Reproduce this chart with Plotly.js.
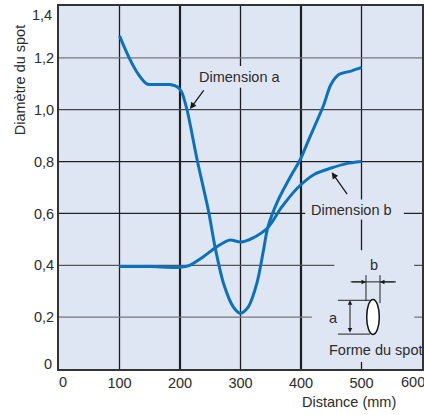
<!DOCTYPE html>
<html>
<head>
<meta charset="utf-8">
<script src="https://cdn.plot.ly/plotly-3.0.1.min.js"></script>
<style>html,body{margin:0;padding:0;background:#fff;}#chart{width:424px;height:415px;}</style>
</head>
<body>
<div id="chart"></div>
<script>
// ---- data ----
const distA = [100, 117, 131, 145, 165, 183, 197, 203, 212, 228, 247, 258, 272, 288, 300, 313, 327, 338, 345, 362, 385, 398, 412, 437, 449, 462, 484, 500];
const dimA  = [1.285, 1.195, 1.137, 1.100, 1.097, 1.097, 1.086, 1.067, 0.996, 0.810, 0.611, 0.470, 0.330, 0.240, 0.215, 0.240, 0.330, 0.458, 0.545, 0.650, 0.752, 0.804, 0.880, 1.015, 1.095, 1.135, 1.150, 1.163];
const distB = [100, 150, 200, 216, 238, 260, 282, 300, 320, 345, 368, 395, 423, 450, 475, 500];
const dimB  = [0.395, 0.395, 0.392, 0.400, 0.432, 0.470, 0.497, 0.490, 0.505, 0.545, 0.624, 0.700, 0.752, 0.775, 0.792, 0.800];
const xTicks = [0, 100, 200, 300, 400, 500, 600];
const xTickLabels = ['0', '100', '200', '300', '400', '500', '600'];
const yTicks = [0, 0.2, 0.4, 0.6, 0.8, 1.0, 1.2, 1.4];
const yTickLabels = ['0', '0,2', '0,4', '0,6', '0,8', '1,0', '1,2', '1,4'];
const seriesNames = ['Dimension a', 'Dimension b'];

// ---- styling ----
const FONT = 'Liberation Sans, Arial, Helvetica, sans-serif';
const TXT = '#2b2b2b';
const BG = '#dfe6f3';
const BLUE = '#0a71bd';
const FS = 14.5;

const shapes = [];
const xLast = xTicks.length - 1, yLast = yTicks.length - 1;
// vertical grid lines
xTicks.forEach(t => {
  if (t <= xTicks[0] || t >= xTicks[xLast]) return;
  const thick = (t === 200 || t === 400);
  shapes.push({type: 'line', layer: 'below', xref: 'x', yref: 'y', x0: t, x1: t, y0: yTicks[0], y1: yTicks[yLast],
    line: {color: '#1e1e1e', width: thick ? 2.2 : 1.3}});
});
// horizontal grid lines
const hColor = {0.2: '#777', 0.4: '#555', 0.6: '#222', 0.8: '#222', 1.0: '#444', 1.2: '#777'};
yTicks.forEach(t => {
  if (t <= yTicks[0] || t >= yTicks[yLast]) return;
  shapes.push({type: 'line', layer: 'below', xref: 'x', yref: 'y', x0: xTicks[0], x1: xTicks[xLast], y0: t, y1: t,
    line: {color: hColor[t] || '#333', width: 1.3}});
});
// background patches that interrupt the grid behind labels / inset
const patch = (x0, x1, y0, y1) => shapes.push({type: 'rect', layer: 'below', xref: 'x', yref: 'y', x0, x1, y0, y1,
  line: {width: 0}, fillcolor: BG});
patch(225, 373, 1.085, 1.169);      // behind "Dimension a"
patch(407, 570, 0.577, 0.654);      // behind "Dimension b"
patch(455, 587, 0.027, 0.458);      // inset
patch(418, 587, 0.17, 0.23);        // inset ("a" label)

// inset drawing: spot shape and dimension lines
const ln = (x0, y0, x1, y1, w) => shapes.push({type: 'line', layer: 'above', xref: 'x', yref: 'y', x0, y0, x1, y1,
  line: {color: '#222', width: w || 1}});
ln(507.4, 0.362, 507.4, 0.262);
ln(530.6, 0.362, 530.6, 0.254);
ln(482, 0.336, 557, 0.336);
ln(461, 0.265, 514, 0.265);
ln(461, 0.1346, 514, 0.1346);
shapes.push({type: 'circle', layer: 'above', xref: 'x', yref: 'y', x0: 508.6, x1: 529.4, y0: 0.1335, y1: 0.268,
  fillcolor: '#ffffff', line: {color: '#111', width: 1.5}});

const txtFont = {family: FONT, size: FS, color: TXT};
const annotations = [
  {xref: 'x', yref: 'y', x: 299, y: 1.127, text: seriesNames[0], showarrow: false, font: txtFont},
  {xref: 'x', yref: 'y', x: 216.5, y: 1.003, ax: 241, ay: 1.08, axref: 'x', ayref: 'y', text: '', showarrow: true,
    arrowhead: 2, arrowsize: 1, arrowwidth: 1.3, arrowcolor: '#1a1a1a'},
  {xref: 'x', yref: 'y', x: 483.5, y: 0.615, text: seriesNames[1], showarrow: false, font: txtFont},
  {xref: 'x', yref: 'y', x: 450.7, y: 0.759, ax: 478, ay: 0.669, axref: 'x', ayref: 'y', text: '', showarrow: true,
    arrowhead: 2, arrowsize: 1, arrowwidth: 1.3, arrowcolor: '#1a1a1a'},
  // inset labels & arrows
  {xref: 'x', yref: 'y', x: 520.7, y: 0.40, text: 'b', showarrow: false, font: txtFont},
  {xref: 'x', yref: 'y', x: 454.5, y: 0.196, text: 'a', showarrow: false, font: txtFont},
  {xref: 'x', yref: 'y', x: 443, y: 0.073, text: 'Forme du spot', xanchor: 'left', showarrow: false, font: txtFont},
  {xref: 'x', yref: 'y', x: 507.4, y: 0.336, ax: 482, ay: 0.336, axref: 'x', ayref: 'y', text: '', showarrow: true,
    arrowhead: 2, arrowsize: 0.9, arrowwidth: 1, arrowcolor: '#1a1a1a'},
  {xref: 'x', yref: 'y', x: 530.6, y: 0.336, ax: 557, ay: 0.336, axref: 'x', ayref: 'y', text: '', showarrow: true,
    arrowhead: 2, arrowsize: 0.9, arrowwidth: 1, arrowcolor: '#1a1a1a'},
  {xref: 'x', yref: 'y', x: 481, y: 0.265, ax: 481, ay: 0.1346, axref: 'x', ayref: 'y', text: '', showarrow: true,
    arrowhead: 2, startarrowhead: 2, arrowside: 'end+start', arrowsize: 0.9, startarrowsize: 0.9, arrowwidth: 1, arrowcolor: '#1a1a1a'},
  // axis titles
  {xref: 'paper', yref: 'paper', x: -0.107, y: 0.796, xanchor: 'center', yanchor: 'middle', text: 'Diamètre du spot',
    textangle: -90, showarrow: false, font: txtFont},
  {xref: 'paper', yref: 'paper', x: 0.799, y: -0.09, xanchor: 'center', yanchor: 'middle', text: 'Distance (mm)',
    showarrow: false, font: txtFont},
  // end tick labels, nudged inward as in the reference
  {xref: 'x', yref: 'paper', x: xTicks[0], y: 0, xanchor: 'center', yanchor: 'middle', yshift: -13, xshift: 4,
    text: xTickLabels[0], showarrow: false, font: txtFont},
  {xref: 'x', yref: 'paper', x: xTicks[xLast], y: 0, xanchor: 'center', yanchor: 'middle', yshift: -13, xshift: -9,
    text: xTickLabels[xLast], showarrow: false, font: txtFont},
  {xref: 'paper', yref: 'y', x: 0, y: yTicks[0], xanchor: 'right', yanchor: 'middle', xshift: -5, yshift: 5,
    text: yTickLabels[0], showarrow: false, font: txtFont},
  {xref: 'paper', yref: 'y', x: 0, y: yTicks[yLast], xanchor: 'right', yanchor: 'middle', xshift: -5, yshift: -9,
    text: yTickLabels[yLast], showarrow: false, font: txtFont}
];

const traces = [
  {x: distA, y: dimA, name: seriesNames[0], type: 'scatter', mode: 'lines',
    line: {color: BLUE, width: 3, shape: 'spline', smoothing: 0.8}},
  {x: distB, y: dimB, name: seriesNames[1], type: 'scatter', mode: 'lines',
    line: {color: BLUE, width: 3, shape: 'spline', smoothing: 0.8}}
];

// inner tick labels drawn by the axis; the two end labels are drawn above with an inward nudge
const xAxisText = xTickLabels.map((s, i) => (i === 0 || i === xLast) ? '' : s);
const yAxisText = yTickLabels.map((s, i) => (i === 0 || i === yLast) ? '' : s);

const layout = {
  width: 424, height: 415,
  margin: {l: 59, r: 2, t: 6, b: 46},
  paper_bgcolor: '#ffffff', plot_bgcolor: BG,
  showlegend: false,
  font: txtFont,
  xaxis: {range: [0, 600], tickvals: xTicks, ticktext: xAxisText, showgrid: false, zeroline: false,
    showline: true, mirror: true, linecolor: '#333', linewidth: 2, ticks: '', ticklabelstandoff: 0,
    tickfont: txtFont, fixedrange: true},
  yaxis: {range: [0, 1.4], tickvals: yTicks, ticktext: yAxisText, showgrid: false, zeroline: false,
    showline: true, mirror: true, linecolor: '#333', linewidth: 2, ticks: '', ticklabelstandoff: 0,
    tickfont: txtFont, fixedrange: true},
  shapes: shapes,
  annotations: annotations
};

Plotly.newPlot('chart', traces, layout, {staticPlot: true, displayModeBar: false});
</script>
</body>
</html>
